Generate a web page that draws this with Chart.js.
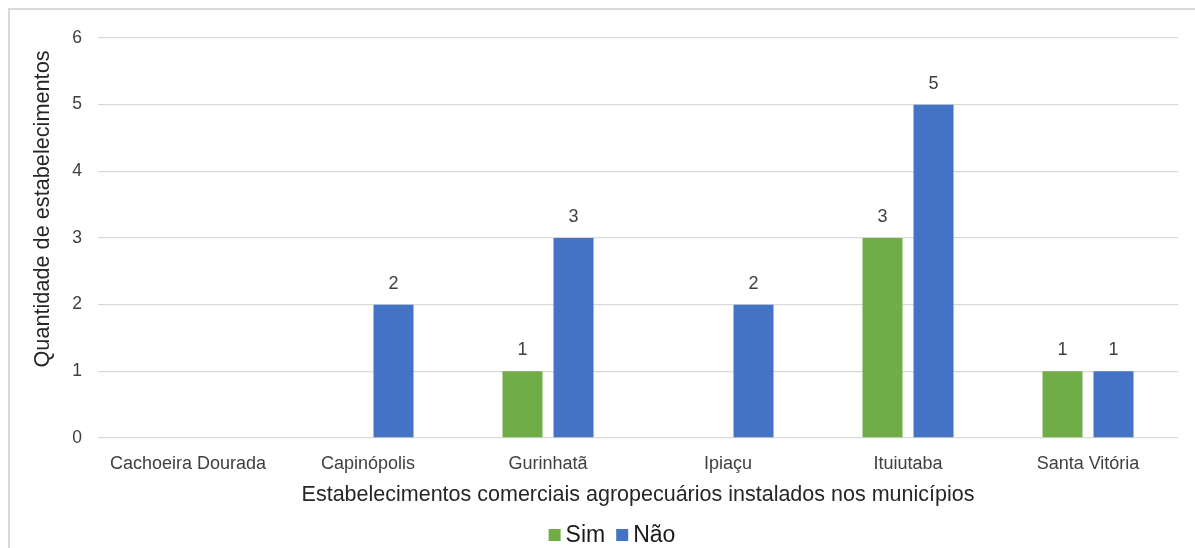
<!DOCTYPE html>
<html>
<head>
<meta charset="utf-8">
<script src="https://cdn.jsdelivr.net/npm/chart.js@4.4.1/dist/chart.umd.min.js"></script>
<style>
  html, body { margin: 0; padding: 0; background: #fff; overflow: hidden; }
  #wrap { position: relative; width: 1195px; height: 548px; }
  #frame { position: absolute; left: 8px; top: 8px; width: 1200px; height: 600px;
           border: 2px solid #d9d9d9; box-sizing: border-box; pointer-events: none; }
  canvas { position: absolute; left: 0; top: 0; }
</style>
</head>
<body>
<div id="wrap">
  <canvas id="chart" width="1195" height="548"></canvas>
  <div id="frame"></div>
</div>
<script>
// Municípios e quantidade de estabelecimentos
const municipios = ['Cachoeira Dourada', 'Capinópolis', 'Gurinhatã', 'Ipiaçu', 'Ituiutaba', 'Santa Vitória'];
const sim = [0, 0, 1, 0, 3, 1];
const nao = [0, 2, 3, 2, 5, 1];
const yTicks = [0, 1, 2, 3, 4, 5, 6];
const yTitle = 'Quantidade de estabelecimentos';
const xTitle = 'Estabelecimentos comerciais agropecuários instalados nos municípios';

const FONT = "'Liberation Sans', Arial, sans-serif";

// Rótulos de valor acima de cada barra
const valueLabels = {
  id: 'valueLabels',
  afterDatasetsDraw(chart) {
    const ctx = chart.ctx;
    ctx.save();
    ctx.font = '18px ' + FONT;
    ctx.fillStyle = '#404040';
    ctx.textAlign = 'center';
    ctx.textBaseline = 'middle';
    chart.data.datasets.forEach((ds, i) => {
      const meta = chart.getDatasetMeta(i);
      meta.data.forEach((bar, j) => {
        const v = ds.data[j];
        if (!v) return;
        ctx.fillText(String(v), bar.x, bar.y - 21);
      });
    });
    ctx.restore();
  }
};

// Título vertical do eixo Y, centrado na altura do gráfico
const yAxisTitle = {
  id: 'yAxisTitle',
  afterDraw(chart) {
    const ctx = chart.ctx;
    ctx.save();
    ctx.font = '21.7px ' + FONT;
    ctx.fillStyle = '#262626';
    ctx.textAlign = 'center';
    ctx.textBaseline = 'middle';
    ctx.translate(43, 209);
    ctx.rotate(-Math.PI / 2);
    ctx.fillText(yTitle, 0, 0);
    ctx.restore();
  }
};

// Legenda inferior com quadrados coloridos
const bottomLegend = {
  id: 'bottomLegend',
  afterDraw(chart) {
    const ctx = chart.ctx;
    ctx.save();
    ctx.font = '23px ' + FONT;
    ctx.textBaseline = 'middle';
    const box = 12, gapText = 5, gapItem = 11;
    const items = chart.data.datasets.map(ds => ({ label: ds.label, color: ds.backgroundColor }));
    let total = 0;
    items.forEach((it, k) => {
      it.w = ctx.measureText(it.label).width;
      total += box + gapText + it.w + (k < items.length - 1 ? gapItem : 0);
    });
    let x = 612 - total / 2;
    const yc = 535;
    items.forEach(it => {
      ctx.fillStyle = it.color;
      ctx.fillRect(x, yc - box / 2, box, box);
      x += box + gapText;
      ctx.fillStyle = '#1a1a1a';
      ctx.textAlign = 'left';
      ctx.fillText(it.label, x, yc + 1);
      x += it.w + gapItem;
    });
    ctx.restore();
  }
};

new Chart(document.getElementById('chart'), {
  type: 'bar',
  data: {
    labels: municipios,
    datasets: [
      { label: 'Sim', data: sim, backgroundColor: '#70AD47', categoryPercentage: 0.567, barPercentage: 0.784 },
      { label: 'Não', data: nao, backgroundColor: '#4472C4', categoryPercentage: 0.567, barPercentage: 0.784 }
    ]
  },
  options: {
    responsive: false,
    animation: false,
    layout: { padding: { left: 0, right: 17, top: 38, bottom: 40 } },
    plugins: {
      legend: { display: false },
      tooltip: { enabled: false }
    },
    scales: {
      x: {
        grid: { display: false },
        border: { display: false },
        ticks: { color: '#404040', font: { family: FONT, size: 18 }, padding: 7, maxRotation: 0, autoSkip: false },
        title: {
          display: true,
          text: xTitle,
          color: '#262626',
          font: { family: FONT, size: 21.5 },
          padding: { top: 0, bottom: 0 }
        },
        afterFit(scale) { scale.height = 70; }
      },
      y: {
        min: 0,
        max: 6,
        afterBuildTicks(scale) { scale.ticks = yTicks.map(v => ({ value: v })); },
        grid: { color: '#d9d9d9', lineWidth: 1.3, drawTicks: false },
        border: { display: false },
        ticks: { color: '#404040', font: { family: FONT, size: 17.5 }, padding: 16 },
        afterFit(scale) { scale.width = 98; }
      }
    }
  },
  plugins: [valueLabels, yAxisTitle, bottomLegend]
});
</script>
</body>
</html>
